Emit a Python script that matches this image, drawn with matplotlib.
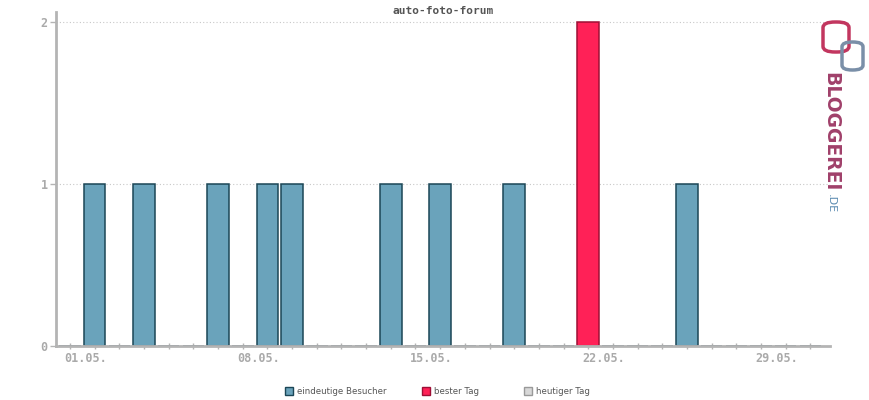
import matplotlib
matplotlib.use("Agg")
import matplotlib.pyplot as plt
from matplotlib.patches import Rectangle, FancyBboxPatch

# -----------------------------------
# Daten
# -----------------------------------
tage = ["%02d.05." % d for d in range(1, 32)]
besucher = [0, 1, 0, 1, 0, 0, 1, 0, 1, 1,
            0, 0, 0, 1, 0, 1, 0, 0, 1, 0,
            0, 2, 0, 0, 0, 1, 0, 0, 0, 0, 0]
bester_tag = "22.05."
label_tage = ["01.05.", "08.05.", "15.05.", "22.05.", "29.05."]
y_ticks = [0, 1, 2]

titel = "auto-foto-forum"
legende = ["eindeutige Besucher", "bester Tag", "heutiger Tag"]

blau, blau_rand = "#6aa3bb", "#1b4656"
rot, rot_rand = "#ff2157", "#9e0f35"
grau = "#b4b4b4"

# -----------------------------------
# Figur
# -----------------------------------
fig = plt.figure(figsize=(8.7, 4), dpi=100)
ax = fig.add_axes([56 / 870, 54 / 400, (830 - 56) / 870, (346 - 12) / 400])

x = list(range(len(tage)))
farben = [rot if t == bester_tag else blau for t in tage]
raender = [rot_rand if t == bester_tag else blau_rand for t in tage]
ax.bar(x, besucher, width=0.87, color=farben, edgecolor=raender,
       linewidth=1.1, zorder=3)

ax.set_xlim(-0.57, 30.8)
ax.set_ylim(0, 2.06)

# Gitter
for y in y_ticks[1:]:
    ax.axhline(y, color="#c8c8c8", linestyle=(0, (1, 2)), linewidth=0.8, zorder=1)

# Achsen
for s in ["top", "right"]:
    ax.spines[s].set_visible(False)
for s in ["left", "bottom"]:
    ax.spines[s].set_color(grau)
    ax.spines[s].set_linewidth(2)
    ax.spines[s].set_zorder(4)

ax.set_xticks(x)
ax.set_xticklabels([])
ax.tick_params(axis="x", length=4, width=1, color=grau, direction="inout")
for lbl in label_tage:
    ax.text(tage.index(lbl) + 0.65, -0.035, lbl, ha="center", va="top",
            fontsize=8.5, family="DejaVu Sans Mono", color="#aaaaaa",
            fontweight="bold")

ax.set_yticks(y_ticks)
ax.set_yticklabels([str(v) for v in y_ticks], fontsize=8.5,
                   family="DejaVu Sans Mono", color="#aaaaaa", fontweight="bold")
ax.tick_params(axis="y", length=4, width=1, color=grau, pad=2)

# Titel
fig.text(443 / 870, 1 - 11 / 400, titel, ha="center", va="center",
         fontsize=8, family="DejaVu Sans Mono", fontweight="bold", color="#555555")

# Legende
leg_x = [285, 422, 524]
leg_farben = [(blau, blau_rand), (rot, rot_rand), ("#d8d8d8", "#999999")]
for lx, txt, (fc, ec) in zip(leg_x, legende, leg_farben):
    fig.patches.append(Rectangle((lx / 870, 1 - 395 / 400), 8 / 870, 8 / 400,
                                 transform=fig.transFigure, facecolor=fc,
                                 edgecolor=ec, linewidth=1))
    fig.text((lx + 12) / 870, 1 - 391 / 400, txt, ha="left", va="center",
             fontsize=6.2, color="#555555")

# Logo
fig.patches.append(FancyBboxPatch((823 / 870, 1 - 52 / 400), 26 / 870, 30 / 400,
                                  boxstyle="round,pad=0,rounding_size=0.014",
                                  transform=fig.transFigure, facecolor="none",
                                  edgecolor="#c2365f", linewidth=2.5))
fig.patches.append(FancyBboxPatch((842 / 870, 1 - 70 / 400), 21 / 870, 28 / 400,
                                  boxstyle="round,pad=0,rounding_size=0.012",
                                  transform=fig.transFigure, facecolor="none",
                                  edgecolor="#7a8fa8", linewidth=2.5))
fig.text(831 / 870, 1 - 72 / 400, "BLOGGEREI", rotation=270, ha="center", va="top",
         fontsize=13.5, fontweight="bold", color="#a0406a")
fig.text(831 / 870, 1 - 194 / 400, ".DE", rotation=270, ha="center", va="top",
         fontsize=8, color="#5a8ab0")

fig.savefig("out.png", dpi=100)
